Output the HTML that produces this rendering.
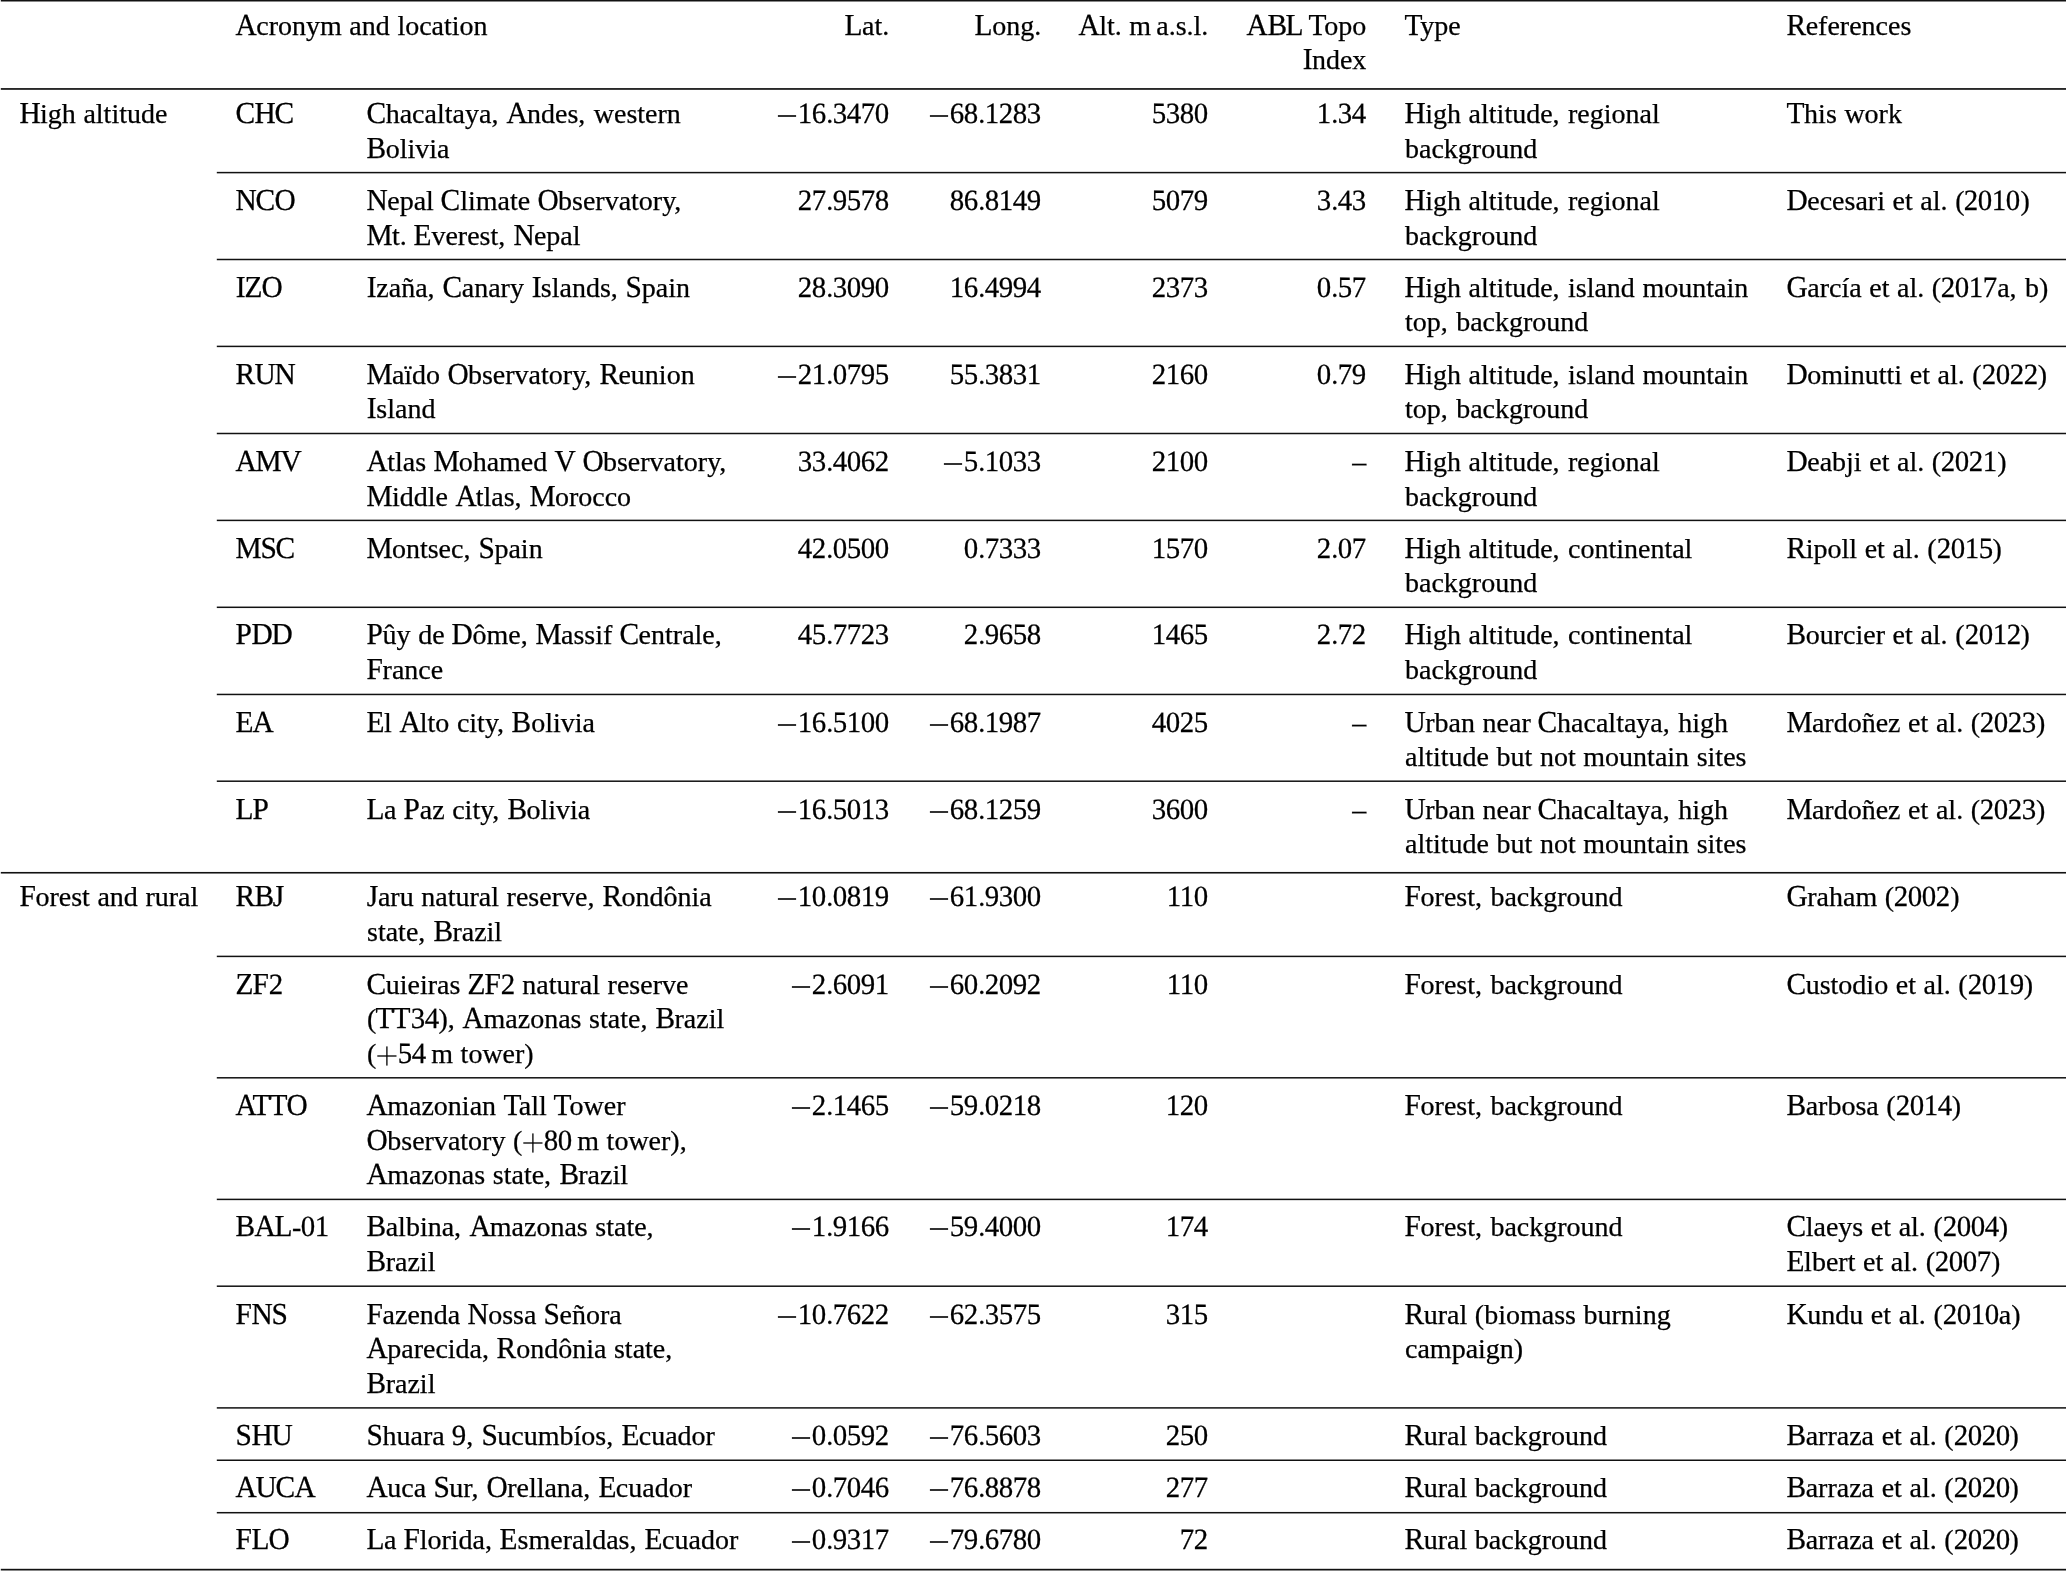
<!DOCTYPE html>
<html><head><meta charset="utf-8"><title>Table</title>
<style>
html,body{margin:0;padding:0;background:#fff;}
body{width:2067px;height:1571px;position:relative;overflow:hidden;font-family:"Liberation Serif",serif;font-size:28.0px;line-height:35px;color:#000;-webkit-text-stroke:0.25px #000;word-spacing:0.6px;}
#pg{position:absolute;left:0;top:0;width:2067px;height:1571px;will-change:transform;}
.t{position:absolute;white-space:nowrap;height:35px;}
.r{text-align:right;}
.rules{position:absolute;left:0;top:0;}
.m{display:inline-block;vertical-align:5px;}
.p{display:inline-block;vertical-align:-3px;}
.ts{display:inline-block;width:5.1px;}
.c{display:inline-block;width:0.8px;}
.ns{display:inline-block;margin-left:-1.9px;}
b{display:inline-block;font-weight:normal;transform:scale(1.05,1.09) rotate(0.05deg);transform-origin:50% 27px;}
b.d{transform:scale(1.03,1.05) rotate(0.05deg);}
</style></head><body><div id="pg">
<svg class="rules" width="2067" height="1571" viewBox="0 0 2067 1571"><rect x="0.8" y="0.00" width="2065.2" height="1.5" fill="#111"/><rect x="0.8" y="88.10" width="2065.2" height="1.7" fill="#111"/><rect x="216.8" y="171.85" width="1849.2" height="1.5" fill="#111"/><rect x="216.8" y="258.75" width="1849.2" height="1.5" fill="#111"/><rect x="216.8" y="345.65" width="1849.2" height="1.5" fill="#111"/><rect x="216.8" y="432.75" width="1849.2" height="1.5" fill="#111"/><rect x="216.8" y="519.65" width="1849.2" height="1.5" fill="#111"/><rect x="216.8" y="606.55" width="1849.2" height="1.5" fill="#111"/><rect x="216.8" y="693.70" width="1849.2" height="1.5" fill="#111"/><rect x="216.8" y="780.45" width="1849.2" height="1.5" fill="#111"/><rect x="0.8" y="871.95" width="2065.2" height="1.6" fill="#111"/><rect x="216.8" y="955.65" width="1849.2" height="1.5" fill="#111"/><rect x="216.8" y="1077.05" width="1849.2" height="1.5" fill="#111"/><rect x="216.8" y="1198.65" width="1849.2" height="1.5" fill="#111"/><rect x="216.8" y="1285.45" width="1849.2" height="1.5" fill="#111"/><rect x="216.8" y="1407.15" width="1849.2" height="1.5" fill="#111"/><rect x="216.8" y="1459.50" width="1849.2" height="1.5" fill="#111"/><rect x="216.8" y="1511.95" width="1849.2" height="1.5" fill="#111"/><rect x="0.8" y="1568.80" width="2065.2" height="1.7" fill="#111"/></svg>
<div class="t" style="left:236px;top:8px"><b>A</b>cronym and location</div>
<div class="t r" style="right:1177.70px;top:8px"><b>L</b>at.</div>
<div class="t r" style="right:1025.70px;top:8px"><b>L</b>ong.</div>
<div class="t r" style="right:858.70px;top:8px"><b>A</b>lt. m<i class="ts"></i>a.s.l.</div>
<div class="t r" style="right:700.70px;top:8px"><b>A</b><b>B</b><b>L</b><i class="ns"></i> <b style="margin-right:-1.96px;">T</b>opo</div>
<div class="t r" style="right:700.70px;top:42px"><b>I</b>ndex</div>
<div class="t" style="left:1405px;top:8px"><b style="margin-right:-1.96px;">T</b>ype</div>
<div class="t" style="left:1787px;top:8px"><b>R</b>eferences</div>
<div class="t" style="left:19.8px;top:96px"><b>H</b>igh altitude</div>
<div class="t" style="left:236px;top:96px"><b>C</b><b>H</b><b>C</b></div>
<div class="t" style="left:367px;top:96px"><b>C</b>hacaltaya,<i class="c"></i> <b>A</b>ndes,<i class="c"></i> western</div>
<div class="t" style="left:367px;top:131px"><b>B</b>olivia</div>
<div class="t r" style="right:1177.70px;top:96px"><svg class="m" width="21.8" height="4" viewBox="0 0 21.8 4"><rect x="0.9" y="1.2" width="18.2" height="1.6" fill="#000"/></svg><b class="d">1</b><b class="d">6</b>.<b class="d">3</b><b class="d">4</b><b class="d">7</b><b class="d">0</b></div>
<div class="t r" style="right:1025.70px;top:96px"><svg class="m" width="21.8" height="4" viewBox="0 0 21.8 4"><rect x="0.9" y="1.2" width="18.2" height="1.6" fill="#000"/></svg><b class="d">6</b><b class="d">8</b>.<b class="d">1</b><b class="d">2</b><b class="d">8</b><b class="d">3</b></div>
<div class="t r" style="right:858.70px;top:96px"><b class="d">5</b><b class="d">3</b><b class="d">8</b><b class="d">0</b></div>
<div class="t r" style="right:700.70px;top:96px"><b class="d">1</b>.<b class="d">3</b><b class="d">4</b></div>
<div class="t" style="left:1405px;top:96px"><b>H</b>igh altitude,<i class="c"></i> regional</div>
<div class="t" style="left:1405px;top:131px">background</div>
<div class="t" style="left:1787px;top:96px"><b>T</b>his work</div>
<div class="t" style="left:236px;top:183px"><b>N</b><b>C</b><b>O</b></div>
<div class="t" style="left:367px;top:183px"><b>N</b>epal <b>C</b>limate <b>O</b>bservatory,</div>
<div class="t" style="left:367px;top:218px"><b>M</b>t. <b>E</b>verest,<i class="c"></i> <b>N</b>epal</div>
<div class="t r" style="right:1177.70px;top:183px"><b class="d">2</b><b class="d">7</b>.<b class="d">9</b><b class="d">5</b><b class="d">7</b><b class="d">8</b></div>
<div class="t r" style="right:1025.70px;top:183px"><b class="d">8</b><b class="d">6</b>.<b class="d">8</b><b class="d">1</b><b class="d">4</b><b class="d">9</b></div>
<div class="t r" style="right:858.70px;top:183px"><b class="d">5</b><b class="d">0</b><b class="d">7</b><b class="d">9</b></div>
<div class="t r" style="right:700.70px;top:183px"><b class="d">3</b>.<b class="d">4</b><b class="d">3</b></div>
<div class="t" style="left:1405px;top:183px"><b>H</b>igh altitude,<i class="c"></i> regional</div>
<div class="t" style="left:1405px;top:218px">background</div>
<div class="t" style="left:1787px;top:183px"><b>D</b>ecesari et al. (<b class="d">2</b><b class="d">0</b><b class="d">1</b><b class="d">0</b>)</div>
<div class="t" style="left:236px;top:270px"><b>I</b><b>Z</b><b>O</b></div>
<div class="t" style="left:367px;top:270px"><b>I</b>zaña,<i class="c"></i> <b>C</b>anary <b>I</b>slands,<i class="c"></i> <b>S</b>pain</div>
<div class="t r" style="right:1177.70px;top:270px"><b class="d">2</b><b class="d">8</b>.<b class="d">3</b><b class="d">0</b><b class="d">9</b><b class="d">0</b></div>
<div class="t r" style="right:1025.70px;top:270px"><b class="d">1</b><b class="d">6</b>.<b class="d">4</b><b class="d">9</b><b class="d">9</b><b class="d">4</b></div>
<div class="t r" style="right:858.70px;top:270px"><b class="d">2</b><b class="d">3</b><b class="d">7</b><b class="d">3</b></div>
<div class="t r" style="right:700.70px;top:270px"><b class="d">0</b>.<b class="d">5</b><b class="d">7</b></div>
<div class="t" style="left:1405px;top:270px"><b>H</b>igh altitude,<i class="c"></i> island mountain</div>
<div class="t" style="left:1405px;top:304px">top,<i class="c"></i> background</div>
<div class="t" style="left:1787px;top:270px"><b>G</b>arcía et al. (<b class="d">2</b><b class="d">0</b><b class="d">1</b><b class="d">7</b>a,<i class="c"></i> b)</div>
<div class="t" style="left:236px;top:357px"><b>R</b><b>U</b><b>N</b></div>
<div class="t" style="left:367px;top:357px"><b>M</b>aïdo <b>O</b>bservatory,<i class="c"></i> <b>R</b>eunion</div>
<div class="t" style="left:367px;top:391px"><b>I</b>sland</div>
<div class="t r" style="right:1177.70px;top:357px"><svg class="m" width="21.8" height="4" viewBox="0 0 21.8 4"><rect x="0.9" y="1.2" width="18.2" height="1.6" fill="#000"/></svg><b class="d">2</b><b class="d">1</b>.<b class="d">0</b><b class="d">7</b><b class="d">9</b><b class="d">5</b></div>
<div class="t r" style="right:1025.70px;top:357px"><b class="d">5</b><b class="d">5</b>.<b class="d">3</b><b class="d">8</b><b class="d">3</b><b class="d">1</b></div>
<div class="t r" style="right:858.70px;top:357px"><b class="d">2</b><b class="d">1</b><b class="d">6</b><b class="d">0</b></div>
<div class="t r" style="right:700.70px;top:357px"><b class="d">0</b>.<b class="d">7</b><b class="d">9</b></div>
<div class="t" style="left:1405px;top:357px"><b>H</b>igh altitude,<i class="c"></i> island mountain</div>
<div class="t" style="left:1405px;top:391px">top,<i class="c"></i> background</div>
<div class="t" style="left:1787px;top:357px"><b>D</b>ominutti et al. (<b class="d">2</b><b class="d">0</b><b class="d">2</b><b class="d">2</b>)</div>
<div class="t" style="left:236px;top:444px"><b>A</b><b>M</b><b>V</b></div>
<div class="t" style="left:367px;top:444px"><b>A</b>tlas <b>M</b>ohamed <b>V</b> <b>O</b>bservatory,</div>
<div class="t" style="left:367px;top:479px"><b>M</b>iddle <b>A</b>tlas,<i class="c"></i> <b>M</b>orocco</div>
<div class="t r" style="right:1177.70px;top:444px"><b class="d">3</b><b class="d">3</b>.<b class="d">4</b><b class="d">0</b><b class="d">6</b><b class="d">2</b></div>
<div class="t r" style="right:1025.70px;top:444px"><svg class="m" width="21.8" height="4" viewBox="0 0 21.8 4"><rect x="0.9" y="1.2" width="18.2" height="1.6" fill="#000"/></svg><b class="d">5</b>.<b class="d">1</b><b class="d">0</b><b class="d">3</b><b class="d">3</b></div>
<div class="t r" style="right:858.70px;top:444px"><b class="d">2</b><b class="d">1</b><b class="d">0</b><b class="d">0</b></div>
<div class="t r" style="right:700.70px;top:444px">–</div>
<div class="t" style="left:1405px;top:444px"><b>H</b>igh altitude,<i class="c"></i> regional</div>
<div class="t" style="left:1405px;top:479px">background</div>
<div class="t" style="left:1787px;top:444px"><b>D</b>eabji et al. (<b class="d">2</b><b class="d">0</b><b class="d">2</b><b class="d">1</b>)</div>
<div class="t" style="left:236px;top:531px"><b>M</b><b>S</b><b>C</b></div>
<div class="t" style="left:367px;top:531px"><b>M</b>ontsec,<i class="c"></i> <b>S</b>pain</div>
<div class="t r" style="right:1177.70px;top:531px"><b class="d">4</b><b class="d">2</b>.<b class="d">0</b><b class="d">5</b><b class="d">0</b><b class="d">0</b></div>
<div class="t r" style="right:1025.70px;top:531px"><b class="d">0</b>.<b class="d">7</b><b class="d">3</b><b class="d">3</b><b class="d">3</b></div>
<div class="t r" style="right:858.70px;top:531px"><b class="d">1</b><b class="d">5</b><b class="d">7</b><b class="d">0</b></div>
<div class="t r" style="right:700.70px;top:531px"><b class="d">2</b>.<b class="d">0</b><b class="d">7</b></div>
<div class="t" style="left:1405px;top:531px"><b>H</b>igh altitude,<i class="c"></i> continental</div>
<div class="t" style="left:1405px;top:565px">background</div>
<div class="t" style="left:1787px;top:531px"><b>R</b>ipoll et al. (<b class="d">2</b><b class="d">0</b><b class="d">1</b><b class="d">5</b>)</div>
<div class="t" style="left:236px;top:617px"><b>P</b><b>D</b><b>D</b></div>
<div class="t" style="left:367px;top:617px"><b>P</b>ûy de <b>D</b>ôme,<i class="c"></i> <b>M</b>assif <b>C</b>entrale,</div>
<div class="t" style="left:367px;top:652px"><b>F</b>rance</div>
<div class="t r" style="right:1177.70px;top:617px"><b class="d">4</b><b class="d">5</b>.<b class="d">7</b><b class="d">7</b><b class="d">2</b><b class="d">3</b></div>
<div class="t r" style="right:1025.70px;top:617px"><b class="d">2</b>.<b class="d">9</b><b class="d">6</b><b class="d">5</b><b class="d">8</b></div>
<div class="t r" style="right:858.70px;top:617px"><b class="d">1</b><b class="d">4</b><b class="d">6</b><b class="d">5</b></div>
<div class="t r" style="right:700.70px;top:617px"><b class="d">2</b>.<b class="d">7</b><b class="d">2</b></div>
<div class="t" style="left:1405px;top:617px"><b>H</b>igh altitude,<i class="c"></i> continental</div>
<div class="t" style="left:1405px;top:652px">background</div>
<div class="t" style="left:1787px;top:617px"><b>B</b>ourcier et al. (<b class="d">2</b><b class="d">0</b><b class="d">1</b><b class="d">2</b>)</div>
<div class="t" style="left:236px;top:705px"><b>E</b><b>A</b></div>
<div class="t" style="left:367px;top:705px"><b>E</b>l <b>A</b>lto city,<i class="c"></i> <b>B</b>olivia</div>
<div class="t r" style="right:1177.70px;top:705px"><svg class="m" width="21.8" height="4" viewBox="0 0 21.8 4"><rect x="0.9" y="1.2" width="18.2" height="1.6" fill="#000"/></svg><b class="d">1</b><b class="d">6</b>.<b class="d">5</b><b class="d">1</b><b class="d">0</b><b class="d">0</b></div>
<div class="t r" style="right:1025.70px;top:705px"><svg class="m" width="21.8" height="4" viewBox="0 0 21.8 4"><rect x="0.9" y="1.2" width="18.2" height="1.6" fill="#000"/></svg><b class="d">6</b><b class="d">8</b>.<b class="d">1</b><b class="d">9</b><b class="d">8</b><b class="d">7</b></div>
<div class="t r" style="right:858.70px;top:705px"><b class="d">4</b><b class="d">0</b><b class="d">2</b><b class="d">5</b></div>
<div class="t r" style="right:700.70px;top:705px">–</div>
<div class="t" style="left:1405px;top:705px"><b>U</b>rban near <b>C</b>hacaltaya,<i class="c"></i> high</div>
<div class="t" style="left:1405px;top:739px">altitude but not mountain sites</div>
<div class="t" style="left:1787px;top:705px"><b>M</b>ardoñez et al. (<b class="d">2</b><b class="d">0</b><b class="d">2</b><b class="d">3</b>)</div>
<div class="t" style="left:236px;top:792px"><b>L</b><b>P</b></div>
<div class="t" style="left:367px;top:792px"><b>L</b>a <b>P</b>az city,<i class="c"></i> <b>B</b>olivia</div>
<div class="t r" style="right:1177.70px;top:792px"><svg class="m" width="21.8" height="4" viewBox="0 0 21.8 4"><rect x="0.9" y="1.2" width="18.2" height="1.6" fill="#000"/></svg><b class="d">1</b><b class="d">6</b>.<b class="d">5</b><b class="d">0</b><b class="d">1</b><b class="d">3</b></div>
<div class="t r" style="right:1025.70px;top:792px"><svg class="m" width="21.8" height="4" viewBox="0 0 21.8 4"><rect x="0.9" y="1.2" width="18.2" height="1.6" fill="#000"/></svg><b class="d">6</b><b class="d">8</b>.<b class="d">1</b><b class="d">2</b><b class="d">5</b><b class="d">9</b></div>
<div class="t r" style="right:858.70px;top:792px"><b class="d">3</b><b class="d">6</b><b class="d">0</b><b class="d">0</b></div>
<div class="t r" style="right:700.70px;top:792px">–</div>
<div class="t" style="left:1405px;top:792px"><b>U</b>rban near <b>C</b>hacaltaya,<i class="c"></i> high</div>
<div class="t" style="left:1405px;top:826px">altitude but not mountain sites</div>
<div class="t" style="left:1787px;top:792px"><b>M</b>ardoñez et al. (<b class="d">2</b><b class="d">0</b><b class="d">2</b><b class="d">3</b>)</div>
<div class="t" style="left:19.8px;top:879px"><b>F</b>orest and rural</div>
<div class="t" style="left:236px;top:879px"><b>R</b><b>B</b><b>J</b></div>
<div class="t" style="left:367px;top:879px"><b>J</b>aru natural reserve,<i class="c"></i> <b>R</b>ondônia</div>
<div class="t" style="left:367px;top:914px">state,<i class="c"></i> <b>B</b>razil</div>
<div class="t r" style="right:1177.70px;top:879px"><svg class="m" width="21.8" height="4" viewBox="0 0 21.8 4"><rect x="0.9" y="1.2" width="18.2" height="1.6" fill="#000"/></svg><b class="d">1</b><b class="d">0</b>.<b class="d">0</b><b class="d">8</b><b class="d">1</b><b class="d">9</b></div>
<div class="t r" style="right:1025.70px;top:879px"><svg class="m" width="21.8" height="4" viewBox="0 0 21.8 4"><rect x="0.9" y="1.2" width="18.2" height="1.6" fill="#000"/></svg><b class="d">6</b><b class="d">1</b>.<b class="d">9</b><b class="d">3</b><b class="d">0</b><b class="d">0</b></div>
<div class="t r" style="right:858.70px;top:879px"><b class="d">1</b><b class="d" style="margin-left:-1.04px;">1</b><b class="d">0</b></div>
<div class="t" style="left:1405px;top:879px"><b>F</b>orest,<i class="c"></i> background</div>
<div class="t" style="left:1787px;top:879px"><b>G</b>raham (<b class="d">2</b><b class="d">0</b><b class="d">0</b><b class="d">2</b>)</div>
<div class="t" style="left:236px;top:967px"><b>Z</b><b>F</b><b class="d">2</b></div>
<div class="t" style="left:367px;top:967px"><b>C</b>uieiras <b>Z</b><b>F</b><b class="d">2</b> natural reserve</div>
<div class="t" style="left:367px;top:1001px">(<b>T</b><b>T</b><b class="d">3</b><b class="d">4</b>),<i class="c"></i> <b>A</b>mazonas state,<i class="c"></i> <b>B</b>razil</div>
<div class="t" style="left:367px;top:1036px">(<svg class="p" width="21.8" height="20" viewBox="0 0 21.8 20"><rect x="1.3" y="9.35" width="19.2" height="1.3" fill="#000"/><rect x="10.25" y="0.4" width="1.3" height="19.2" fill="#000"/></svg><b class="d">5</b><b class="d">4</b><i class="ts"></i>m tower)</div>
<div class="t r" style="right:1177.70px;top:967px"><svg class="m" width="21.8" height="4" viewBox="0 0 21.8 4"><rect x="0.9" y="1.2" width="18.2" height="1.6" fill="#000"/></svg><b class="d">2</b>.<b class="d">6</b><b class="d">0</b><b class="d">9</b><b class="d">1</b></div>
<div class="t r" style="right:1025.70px;top:967px"><svg class="m" width="21.8" height="4" viewBox="0 0 21.8 4"><rect x="0.9" y="1.2" width="18.2" height="1.6" fill="#000"/></svg><b class="d">6</b><b class="d">0</b>.<b class="d">2</b><b class="d">0</b><b class="d">9</b><b class="d">2</b></div>
<div class="t r" style="right:858.70px;top:967px"><b class="d">1</b><b class="d" style="margin-left:-1.04px;">1</b><b class="d">0</b></div>
<div class="t" style="left:1405px;top:967px"><b>F</b>orest,<i class="c"></i> background</div>
<div class="t" style="left:1787px;top:967px"><b>C</b>ustodio et al. (<b class="d">2</b><b class="d">0</b><b class="d">1</b><b class="d">9</b>)</div>
<div class="t" style="left:236px;top:1088px"><b>A</b><b style="margin-left:-3.10px;">T</b><b>T</b><b style="margin-left:-0.51px;">O</b></div>
<div class="t" style="left:367px;top:1088px"><b>A</b>mazonian <b style="margin-right:-1.96px;">T</b>all <b style="margin-right:-1.96px;">T</b>ower</div>
<div class="t" style="left:367px;top:1123px"><b>O</b>bservatory (<svg class="p" width="21.8" height="20" viewBox="0 0 21.8 20"><rect x="1.3" y="9.35" width="19.2" height="1.3" fill="#000"/><rect x="10.25" y="0.4" width="1.3" height="19.2" fill="#000"/></svg><b class="d">8</b><b class="d">0</b><i class="ts"></i>m tower),</div>
<div class="t" style="left:367px;top:1157px"><b>A</b>mazonas state,<i class="c"></i> <b>B</b>razil</div>
<div class="t r" style="right:1177.70px;top:1088px"><svg class="m" width="21.8" height="4" viewBox="0 0 21.8 4"><rect x="0.9" y="1.2" width="18.2" height="1.6" fill="#000"/></svg><b class="d">2</b>.<b class="d">1</b><b class="d">4</b><b class="d">6</b><b class="d">5</b></div>
<div class="t r" style="right:1025.70px;top:1088px"><svg class="m" width="21.8" height="4" viewBox="0 0 21.8 4"><rect x="0.9" y="1.2" width="18.2" height="1.6" fill="#000"/></svg><b class="d">5</b><b class="d">9</b>.<b class="d">0</b><b class="d">2</b><b class="d">1</b><b class="d">8</b></div>
<div class="t r" style="right:858.70px;top:1088px"><b class="d">1</b><b class="d">2</b><b class="d">0</b></div>
<div class="t" style="left:1405px;top:1088px"><b>F</b>orest,<i class="c"></i> background</div>
<div class="t" style="left:1787px;top:1088px"><b>B</b>arbosa (<b class="d">2</b><b class="d">0</b><b class="d">1</b><b class="d">4</b>)</div>
<div class="t" style="left:236px;top:1209px"><b>B</b><b>A</b><b>L</b>-<b class="d">0</b><b class="d">1</b></div>
<div class="t" style="left:367px;top:1209px"><b>B</b>albina,<i class="c"></i> <b>A</b>mazonas state,</div>
<div class="t" style="left:367px;top:1244px"><b>B</b>razil</div>
<div class="t r" style="right:1177.70px;top:1209px"><svg class="m" width="21.8" height="4" viewBox="0 0 21.8 4"><rect x="0.9" y="1.2" width="18.2" height="1.6" fill="#000"/></svg><b class="d">1</b>.<b class="d">9</b><b class="d">1</b><b class="d">6</b><b class="d">6</b></div>
<div class="t r" style="right:1025.70px;top:1209px"><svg class="m" width="21.8" height="4" viewBox="0 0 21.8 4"><rect x="0.9" y="1.2" width="18.2" height="1.6" fill="#000"/></svg><b class="d">5</b><b class="d">9</b>.<b class="d">4</b><b class="d">0</b><b class="d">0</b><b class="d">0</b></div>
<div class="t r" style="right:858.70px;top:1209px"><b class="d">1</b><b class="d">7</b><b class="d">4</b></div>
<div class="t" style="left:1405px;top:1209px"><b>F</b>orest,<i class="c"></i> background</div>
<div class="t" style="left:1787px;top:1209px"><b>C</b>laeys et al. (<b class="d">2</b><b class="d">0</b><b class="d">0</b><b class="d">4</b>)</div>
<div class="t" style="left:1787px;top:1244px"><b>E</b>lbert et al. (<b class="d">2</b><b class="d">0</b><b class="d">0</b><b class="d">7</b>)</div>
<div class="t" style="left:236px;top:1297px"><b>F</b><b>N</b><b>S</b></div>
<div class="t" style="left:367px;top:1297px"><b>F</b>azenda <b>N</b>ossa <b>S</b>eñora</div>
<div class="t" style="left:367px;top:1331px"><b>A</b>parecida,<i class="c"></i> <b>R</b>ondônia state,</div>
<div class="t" style="left:367px;top:1366px"><b>B</b>razil</div>
<div class="t r" style="right:1177.70px;top:1297px"><svg class="m" width="21.8" height="4" viewBox="0 0 21.8 4"><rect x="0.9" y="1.2" width="18.2" height="1.6" fill="#000"/></svg><b class="d">1</b><b class="d">0</b>.<b class="d">7</b><b class="d">6</b><b class="d">2</b><b class="d">2</b></div>
<div class="t r" style="right:1025.70px;top:1297px"><svg class="m" width="21.8" height="4" viewBox="0 0 21.8 4"><rect x="0.9" y="1.2" width="18.2" height="1.6" fill="#000"/></svg><b class="d">6</b><b class="d">2</b>.<b class="d">3</b><b class="d">5</b><b class="d">7</b><b class="d">5</b></div>
<div class="t r" style="right:858.70px;top:1297px"><b class="d">3</b><b class="d">1</b><b class="d">5</b></div>
<div class="t" style="left:1405px;top:1297px"><b>R</b>ural (biomass burning</div>
<div class="t" style="left:1405px;top:1331px">campaign)</div>
<div class="t" style="left:1787px;top:1297px"><b>K</b>undu et al. (<b class="d">2</b><b class="d">0</b><b class="d">1</b><b class="d">0</b>a)</div>
<div class="t" style="left:236px;top:1418px"><b>S</b><b>H</b><b>U</b></div>
<div class="t" style="left:367px;top:1418px"><b>S</b>huara <b class="d">9</b>,<i class="c"></i> <b>S</b>ucumbíos,<i class="c"></i> <b>E</b>cuador</div>
<div class="t r" style="right:1177.70px;top:1418px"><svg class="m" width="21.8" height="4" viewBox="0 0 21.8 4"><rect x="0.9" y="1.2" width="18.2" height="1.6" fill="#000"/></svg><b class="d">0</b>.<b class="d">0</b><b class="d">5</b><b class="d">9</b><b class="d">2</b></div>
<div class="t r" style="right:1025.70px;top:1418px"><svg class="m" width="21.8" height="4" viewBox="0 0 21.8 4"><rect x="0.9" y="1.2" width="18.2" height="1.6" fill="#000"/></svg><b class="d">7</b><b class="d">6</b>.<b class="d">5</b><b class="d">6</b><b class="d">0</b><b class="d">3</b></div>
<div class="t r" style="right:858.70px;top:1418px"><b class="d">2</b><b class="d">5</b><b class="d">0</b></div>
<div class="t" style="left:1405px;top:1418px"><b>R</b>ural background</div>
<div class="t" style="left:1787px;top:1418px"><b>B</b>arraza et al. (<b class="d">2</b><b class="d">0</b><b class="d">2</b><b class="d">0</b>)</div>
<div class="t" style="left:236px;top:1470px"><b>A</b><b>U</b><b>C</b><b>A</b></div>
<div class="t" style="left:367px;top:1470px"><b>A</b>uca <b>S</b>ur,<i class="c"></i> <b>O</b>rellana,<i class="c"></i> <b>E</b>cuador</div>
<div class="t r" style="right:1177.70px;top:1470px"><svg class="m" width="21.8" height="4" viewBox="0 0 21.8 4"><rect x="0.9" y="1.2" width="18.2" height="1.6" fill="#000"/></svg><b class="d">0</b>.<b class="d">7</b><b class="d">0</b><b class="d">4</b><b class="d">6</b></div>
<div class="t r" style="right:1025.70px;top:1470px"><svg class="m" width="21.8" height="4" viewBox="0 0 21.8 4"><rect x="0.9" y="1.2" width="18.2" height="1.6" fill="#000"/></svg><b class="d">7</b><b class="d">6</b>.<b class="d">8</b><b class="d">8</b><b class="d">7</b><b class="d">8</b></div>
<div class="t r" style="right:858.70px;top:1470px"><b class="d">2</b><b class="d">7</b><b class="d">7</b></div>
<div class="t" style="left:1405px;top:1470px"><b>R</b>ural background</div>
<div class="t" style="left:1787px;top:1470px"><b>B</b>arraza et al. (<b class="d">2</b><b class="d">0</b><b class="d">2</b><b class="d">0</b>)</div>
<div class="t" style="left:236px;top:1522px"><b>F</b><b>L</b><b>O</b></div>
<div class="t" style="left:367px;top:1522px"><b>L</b>a <b>F</b>lorida,<i class="c"></i> <b>E</b>smeraldas,<i class="c"></i> <b>E</b>cuador</div>
<div class="t r" style="right:1177.70px;top:1522px"><svg class="m" width="21.8" height="4" viewBox="0 0 21.8 4"><rect x="0.9" y="1.2" width="18.2" height="1.6" fill="#000"/></svg><b class="d">0</b>.<b class="d">9</b><b class="d">3</b><b class="d">1</b><b class="d">7</b></div>
<div class="t r" style="right:1025.70px;top:1522px"><svg class="m" width="21.8" height="4" viewBox="0 0 21.8 4"><rect x="0.9" y="1.2" width="18.2" height="1.6" fill="#000"/></svg><b class="d">7</b><b class="d">9</b>.<b class="d">6</b><b class="d">7</b><b class="d">8</b><b class="d">0</b></div>
<div class="t r" style="right:858.70px;top:1522px"><b class="d">7</b><b class="d">2</b></div>
<div class="t" style="left:1405px;top:1522px"><b>R</b>ural background</div>
<div class="t" style="left:1787px;top:1522px"><b>B</b>arraza et al. (<b class="d">2</b><b class="d">0</b><b class="d">2</b><b class="d">0</b>)</div>
</div></body></html>
